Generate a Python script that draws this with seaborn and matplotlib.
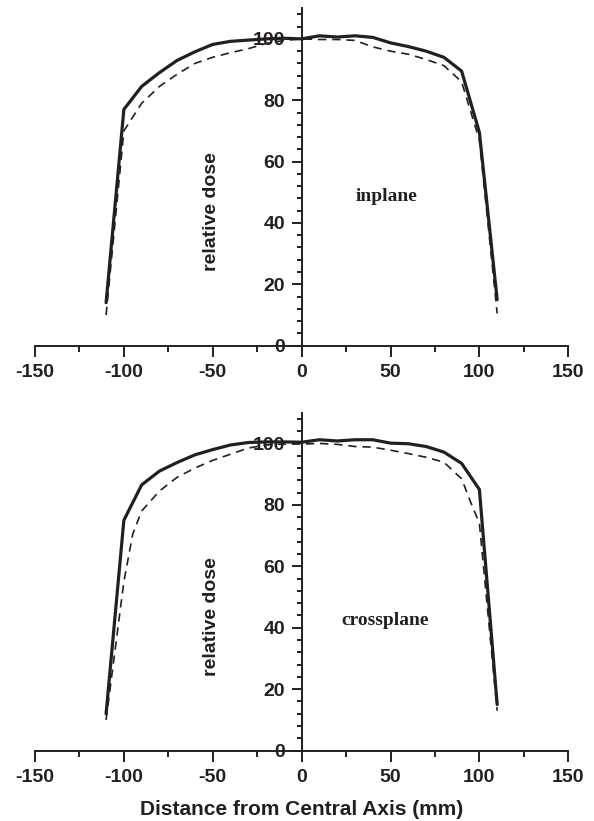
import matplotlib
matplotlib.use("Agg")
import matplotlib.pyplot as plt
from matplotlib.ticker import MultipleLocator
import pandas as pd
import seaborn as sns

# ── Data ─────────────────────────────────────────────────────────────────────
pos_mm = [-110, -100, -90, -80, -70, -60, -50, -40, -30, -20, -10, 0,
          10, 20, 30, 40, 50, 60, 70, 80, 90, 100, 110]

inplane_solid = [14, 77, 84.5, 89, 93, 95.8, 98.2, 99.2, 99.6, 100, 100.2, 100,
                 101, 100.6, 101, 100.5, 98.7, 97.5, 96, 94, 89.5, 69.5, 15]
inplane_dash = [10, 70, 79, 84.5, 88.5, 92, 94, 95.5, 96.8, 98.5, 99.5, 100,
                99.8, 99.8, 99.5, 97.4, 96, 95, 93.3, 91.3, 86, 67, 10.5]

cross_solid = [12, 75, 86.5, 91, 93.8, 96.3, 98, 99.5, 100.3, 100.5, 100.5, 100.4,
               101.2, 100.8, 101.2, 101.2, 100.1, 99.9, 99, 97.2, 93.5, 85, 15]
pos_mm_dash = [-110, -100, -95, -90, -80, -70, -60, -50, -40, -30, -20, -10, 0,
               10, 20, 30, 40, 50, 60, 70, 80, 90, 95, 100, 110]
cross_dash = [10, 55, 70.5, 78, 84.5, 89, 92, 94.5, 96.5, 98.5, 99.5, 99.8, 99.8,
              100, 99.7, 99, 98.8, 97.8, 96.7, 95.5, 93.9, 88.5, 81, 74, 13]

panel_names = ["inplane", "crossplane"]
y_ticks = [0, 20, 40, 60, 80, 100]
x_ticks = [-150, -100, -50, 0, 50, 100, 150]

INK = "#231f20"

sns.set_style("ticks")
plt.rcParams["font.family"] = ["Liberation Sans", "DejaVu Sans"]
plt.rcParams["text.color"] = INK
plt.rcParams["axes.unicode_minus"] = False

fig = plt.figure(figsize=(5.94, 8.21), dpi=100)
ax_top = fig.add_axes([0.0589, 0.579, 0.8978, 0.411])
ax_bot = fig.add_axes([0.0589, 0.0857, 0.8978, 0.4116])

panels = [
    (ax_top, pos_mm, inplane_solid, pos_mm, inplane_dash, panel_names[0], (48, 48.5)),
    (ax_bot, pos_mm, cross_solid, pos_mm_dash, cross_dash, panel_names[1], (47, 42.5)),
]

for ax, xs, ys, xd, yd, name, txt_xy in panels:
    solid = pd.DataFrame({"x": xs, "y": ys})
    dash = pd.DataFrame({"x": xd, "y": yd})
    sns.lineplot(data=solid, x="x", y="y", ax=ax, color=INK, lw=2.3,
                 sort=False, estimator=None)
    sns.lineplot(data=dash, x="x", y="y", ax=ax, color=INK, lw=1.2,
                 sort=False, estimator=None, dashes=False,
                 linestyle=(0, (5, 3.5)))

    ax.set_xlim(-150, 150)
    ax.set_ylim(0, 110)
    ax.spines["left"].set_position(("data", 0))
    ax.spines["right"].set_visible(False)
    ax.spines["top"].set_visible(False)
    for s in ("left", "bottom"):
        ax.spines[s].set_linewidth(1.4)
        ax.spines[s].set_color(INK)

    ax.set_xticks(x_ticks)
    ax.set_yticks(y_ticks)
    ax.xaxis.set_minor_locator(MultipleLocator(25))
    ax.yaxis.set_minor_locator(MultipleLocator(4))
    ax.tick_params(axis="both", which="major", direction="out", width=1.4,
                   color=INK, labelsize=14, labelcolor=INK)
    ax.tick_params(axis="x", which="major", length=8, pad=5)
    ax.tick_params(axis="x", which="minor", length=4, width=1.4, color=INK)
    ax.tick_params(axis="y", which="major", length=7, pad=5)
    ax.tick_params(axis="y", which="minor", length=3.5, width=1.4, color=INK)
    for lab in ax.get_xticklabels() + ax.get_yticklabels():
        lab.set_fontweight("bold")

    ax.set_xlabel("")
    ax.set_ylabel("")
    ax.text(-50.5, 43.7, "relative dose", rotation=90, ha="center", va="center",
            fontsize=14, fontweight="bold", color=INK)
    ax.text(txt_xy[0], txt_xy[1], name, ha="center", va="center",
            fontsize=14, fontweight="bold", family="Liberation Serif", color=INK)

fig.text(0.508, 0.0073, "Distance from Central Axis (mm)", ha="center",
         va="baseline", fontsize=15, fontweight="bold", color=INK)

fig.savefig("out.png", dpi=100)
